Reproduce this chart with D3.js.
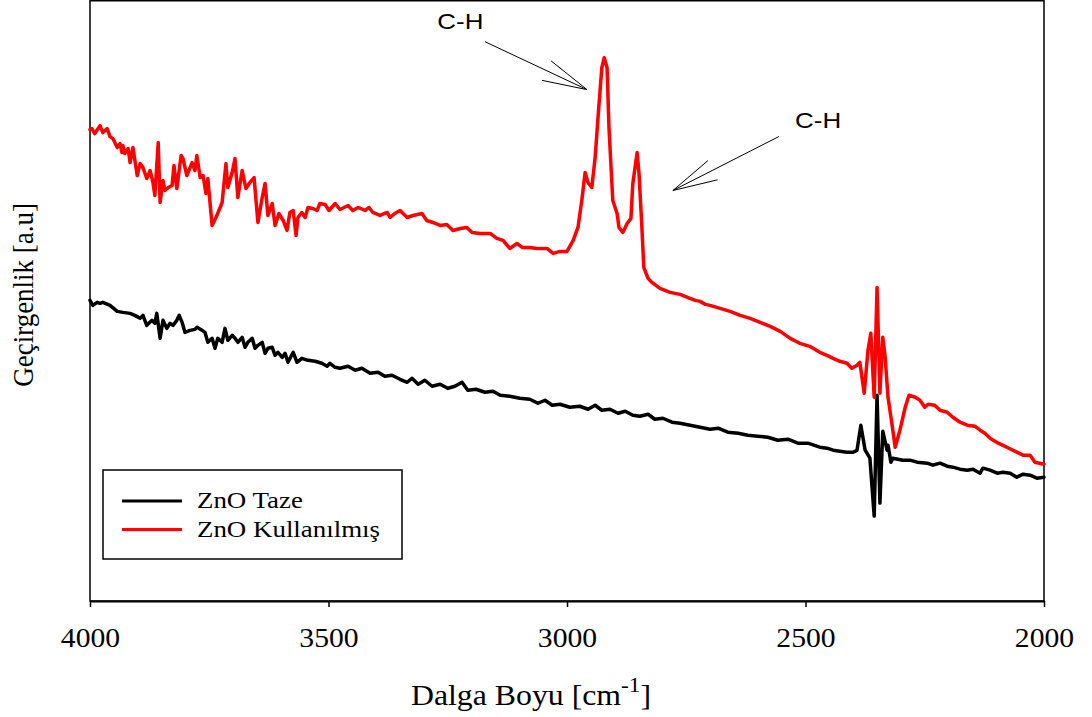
<!DOCTYPE html>
<html>
<head>
<meta charset="utf-8">
<script src="https://cdn.jsdelivr.net/npm/d3@7"></script>
<style>
  html, body { margin: 0; padding: 0; background: #fff; }
  svg { display: block; }
</style>
</head>
<body>
<svg id="chart" width="1092" height="717"></svg>
<script>
// FTIR spectra of fresh and used ZnO (wavenumber in cm^-1, transmittance in a.u.)
const xTicks = [4000, 3500, 3000, 2500, 2000];
const seriesNames = ["ZnO Taze", "ZnO Kullanılmış"];
const seriesColors = ["#000000", "#ff0000"];

const tazeWave = [4000,3994,3985,3979,3973,3958,3943,3931,3916,3906,3895,3889,3881,3870,3864,3860,3853,3847,3839,3832,3826,3818,3813,3807,3801,3790,3780,3776,3765,3759,3753,3744,3738,3732,3723,3717,3711,3702,3696,3690,3681,3675,3669,3660,3654,3648,3639,3633,3627,3618,3612,3606,3597,3591,3585,3574,3566,3556,3543,3528,3514,3503,3497,3486,3476,3459,3444,3430,3413,3396,3382,3367,3350,3335,3325,3312,3298,3283,3266,3250,3235,3220,3208,3191,3172,3155,3140,3120,3099,3078,3061,3046,3031,3015,2994,2973,2956,2941,2927,2910,2893,2878,2862,2847,2830,2816,2799,2780,2763,2742,2721,2700,2683,2663,2641,2621,2600,2579,2558,2537,2516,2495,2470,2455,2442,2428,2413,2400,2392,2384,2375,2365,2356,2350,2344,2338,2329,2327,2321,2317,2296,2281,2266,2245,2233,2218,2203,2191,2176,2161,2149,2134,2128,2113,2098,2086,2071,2057,2044,2029,2015,2000];
const tazeValue = [30.1,29.6,29.9,29.8,29.9,29.6,29.0,28.9,28.8,28.6,28.3,28.6,27.6,28.1,27.8,28.8,26.3,28.1,27.3,27.8,27.6,28.1,28.6,27.9,26.9,27.1,27.2,27.4,27.1,26.9,25.9,26.3,25.3,26.3,25.9,27.3,26.1,26.6,26.3,25.9,26.4,25.4,25.9,26.3,25.3,25.6,25.9,24.8,25.3,25.4,24.6,24.9,24.4,24.8,23.9,24.9,23.9,24.3,24.1,24.0,23.8,23.5,23.8,23.4,23.3,23.5,23.1,23.3,22.8,22.9,22.5,22.6,22.2,21.9,22.3,21.7,22.1,21.5,21.7,21.3,21.5,21.9,21.1,21.2,20.9,21.0,20.6,20.5,20.3,20.2,19.8,20.1,19.6,19.7,19.4,19.5,19.2,19.6,19.1,19.2,18.8,19.0,18.6,18.5,18.7,18.2,18.3,17.9,17.8,17.6,17.4,17.2,17.3,16.9,16.8,16.6,16.5,16.4,16.1,16.2,15.8,15.8,15.4,15.3,15.1,15.0,14.9,14.9,15.1,17.6,15.1,14.3,8.5,20.6,9.8,17.0,15.1,15.6,13.9,14.3,14.1,14.1,13.9,13.8,13.6,13.8,13.5,13.4,13.2,13.1,13.2,12.8,13.3,13.1,12.8,12.9,12.8,12.4,12.7,12.6,12.3,12.4];

const kullWave = [4000,3996,3990,3979,3973,3964,3958,3952,3943,3937,3933,3931,3927,3920,3916,3910,3901,3895,3889,3881,3874,3868,3864,3857,3853,3847,3843,3836,3828,3824,3818,3809,3805,3797,3786,3780,3776,3769,3763,3757,3753,3744,3734,3723,3715,3711,3702,3696,3690,3681,3673,3665,3656,3648,3639,3633,3627,3618,3612,3604,3595,3587,3581,3574,3568,3564,3556,3549,3543,3533,3524,3518,3507,3499,3486,3476,3459,3449,3438,3423,3415,3407,3392,3377,3371,3361,3350,3335,3323,3304,3294,3281,3266,3252,3239,3224,3210,3199,3182,3161,3147,3134,3120,3105,3094,3078,3063,3042,3029,3015,3000,2987,2977,2969,2962,2956,2948,2941,2935,2927,2922,2916,2912,2904,2895,2891,2883,2874,2866,2862,2853,2849,2843,2839,2830,2822,2805,2784,2763,2742,2731,2721,2710,2700,2679,2658,2637,2616,2595,2574,2553,2532,2512,2491,2470,2455,2442,2428,2413,2403,2392,2386,2377,2369,2363,2356,2350,2344,2338,2333,2327,2319,2312,2302,2291,2283,2270,2260,2250,2243,2229,2218,2203,2191,2176,2161,2145,2134,2124,2113,2096,2078,2057,2044,2029,2019,2000];
const kullValue = [47.2,47.3,46.8,47.6,46.9,47.3,46.5,46.3,45.4,45.8,44.9,45.6,44.8,45.3,43.9,45.4,42.6,43.8,43.4,42.3,43.1,41.9,40.6,45.9,39.9,42.1,41.1,41.4,41.6,43.6,41.3,44.6,44.3,42.6,43.9,43.1,44.6,42.4,42.6,40.8,42.3,37.6,38.6,39.9,43.8,41.4,42.9,44.3,40.4,43.1,41.3,41.9,42.4,37.9,40.4,41.8,38.6,39.8,37.6,38.8,38.1,37.1,38.9,39.1,36.6,38.4,38.9,38.4,39.4,39.3,39.1,39.8,39.7,39.1,39.8,39.2,39.6,39.1,39.4,39.1,39.4,38.9,38.6,38.9,38.4,38.8,39.1,38.4,38.6,38.8,38.1,37.9,37.6,37.7,37.1,37.3,37.4,36.9,36.8,36.8,36.3,36.1,35.3,35.8,35.4,35.4,35.3,35.3,34.8,35.0,35.0,36.1,37.4,40.1,42.9,41.9,41.4,44.4,48.4,53.4,54.4,53.4,47.4,40.1,38.8,37.4,36.9,37.8,38.3,41.8,44.9,42.8,37.4,33.4,32.3,31.9,31.3,30.9,30.7,30.3,30.1,30.0,29.7,29.6,29.3,29.0,28.6,28.3,27.9,27.5,27.0,26.3,25.8,25.5,24.9,24.6,24.3,24.0,23.8,23.3,23.6,23.9,20.8,25.1,26.8,20.4,31.4,20.8,26.4,24.4,20.4,17.8,15.4,17.1,19.4,20.6,20.4,20.1,19.4,19.7,19.6,19.1,18.9,18.4,17.9,17.6,17.5,17.1,16.8,16.3,15.8,15.4,14.9,14.6,14.6,13.9,13.7];

// Band annotations: label position, arrow tail and arrow tip in data units
const bandLabels = ["C-H", "C-H"];
const bandLabelAt = [[3272, 57.3], [2522, 47.4]];
const bandArrowTail = [[3172, 56.0], [2556, 46.5]];
const bandArrowTip = [[2958, 51.2], [2778, 41.1]];

const svg = d3.select("#chart");
const margin = { left: 90, right: 48, top: 0.75, bottom: 116 };
const W = 1092, H = 717;

const x = d3.scaleLinear().domain([4000, 2000]).range([margin.left, W - margin.right]);
const y = d3.scaleLinear().domain([0, 60.1]).range([H - margin.bottom, margin.top]);

// Frame
svg.append("rect")
  .attr("x", x(4000)).attr("y", y(60.1))
  .attr("width", x(2000) - x(4000)).attr("height", y(0) - y(60.1))
  .attr("fill", "none").attr("stroke", "#000").attr("stroke-width", 1.5);

// Bottom axis
const xAxis = svg.append("g")
  .attr("transform", `translate(0,${y(0)})`)
  .call(d3.axisBottom(x).tickValues(xTicks).tickSize(6).tickSizeOuter(0).tickFormat(d3.format("d")));
xAxis.select(".domain").attr("stroke-width", 2);
xAxis.selectAll(".tick line").attr("stroke-width", 1.5);
xAxis.selectAll(".tick text")
  .attr("font-family", "'Liberation Serif', 'Times New Roman', serif")
  .attr("font-size", 28)
  .attr("fill", "#000")
  .attr("y", 0).attr("dy", 0)
  .attr("transform", "translate(0,46) scale(1.06,1)");

// Axis titles
const xTitle = svg.append("text")
  .attr("transform", `translate(${(x(4000) + x(2000)) / 2 - 36},705) scale(1.06,1)`)
  .attr("text-anchor", "middle")
  .attr("font-family", "'Liberation Serif', 'Times New Roman', serif")
  .attr("font-size", 30)
  .attr("fill", "#000");
xTitle.append("tspan").text("Dalga Boyu [cm");
xTitle.append("tspan").attr("dy", -13).attr("font-size", 22).text("-1");
xTitle.append("tspan").attr("dy", 13).text("]");

svg.append("text")
  .attr("transform", `translate(33,${(y(0) + y(60.1)) / 2 - 6}) rotate(-90) scale(1,1.12)`)
  .attr("text-anchor", "middle")
  .attr("font-family", "'Liberation Serif', 'Times New Roman', serif")
  .attr("font-size", 27)
  .attr("fill", "#000")
  .text("Geçirgenlik [a.u]");

// Spectra
const line = d3.line().x(d => x(d[0])).y(d => y(d[1]));
const series = [
  d3.zip(tazeWave, tazeValue),
  d3.zip(kullWave, kullValue)
];
const plot = svg.append("g");
series.forEach((pts, i) => {
  plot.append("path")
    .datum(pts)
    .attr("d", line)
    .attr("fill", "none")
    .attr("stroke", seriesColors[i])
    .attr("stroke-width", 3.5)
    .attr("stroke-linejoin", "round")
    .attr("stroke-linecap", "round");
});

// Band annotations with open arrowheads
const ann = svg.append("g");
bandLabels.forEach((label, i) => {
  const [lx, ly] = bandLabelAt[i];
  ann.append("text")
    .attr("transform", `translate(${x(lx)},${y(ly)}) scale(1.18,1)`)
    .attr("font-family", "'Liberation Sans', Arial, sans-serif")
    .attr("font-size", 22)
    .attr("fill", "#000")
    .text(label);
  const tx = x(bandArrowTip[i][0]), ty = y(bandArrowTip[i][1]);
  const sx = x(bandArrowTail[i][0]), sy = y(bandArrowTail[i][1]);
  ann.append("line")
    .attr("x1", sx).attr("y1", sy).attr("x2", tx).attr("y2", ty)
    .attr("stroke", "#000").attr("stroke-width", 1);
  const ang = Math.atan2(sy - ty, sx - tx);
  const spread = 13.5 * Math.PI / 180;
  [[ang - spread, 46], [ang + spread, 46]].forEach(([a, len]) => {
    ann.append("line")
      .attr("x1", tx).attr("y1", ty)
      .attr("x2", tx + len * Math.cos(a)).attr("y2", ty + len * Math.sin(a))
      .attr("stroke", "#000").attr("stroke-width", 1);
  });
});

// Legend
const legend = svg.append("g").attr("transform", "translate(103,470)");
legend.append("rect")
  .attr("width", 299).attr("height", 89)
  .attr("fill", "#fff").attr("stroke", "#000").attr("stroke-width", 1.5);
seriesNames.forEach((name, i) => {
  const ly = 31 + i * 28.5;
  legend.append("line")
    .attr("x1", 19).attr("x2", 79).attr("y1", ly).attr("y2", ly)
    .attr("stroke", seriesColors[i]).attr("stroke-width", 3);
  legend.append("text")
    .attr("transform", `translate(94,${ly + 7}) scale(1.17,1)`)
    .attr("font-family", "'Liberation Serif', 'Times New Roman', serif")
    .attr("font-size", 23)
    .attr("fill", "#000")
    .text(name);
});
</script>
</body>
</html>
